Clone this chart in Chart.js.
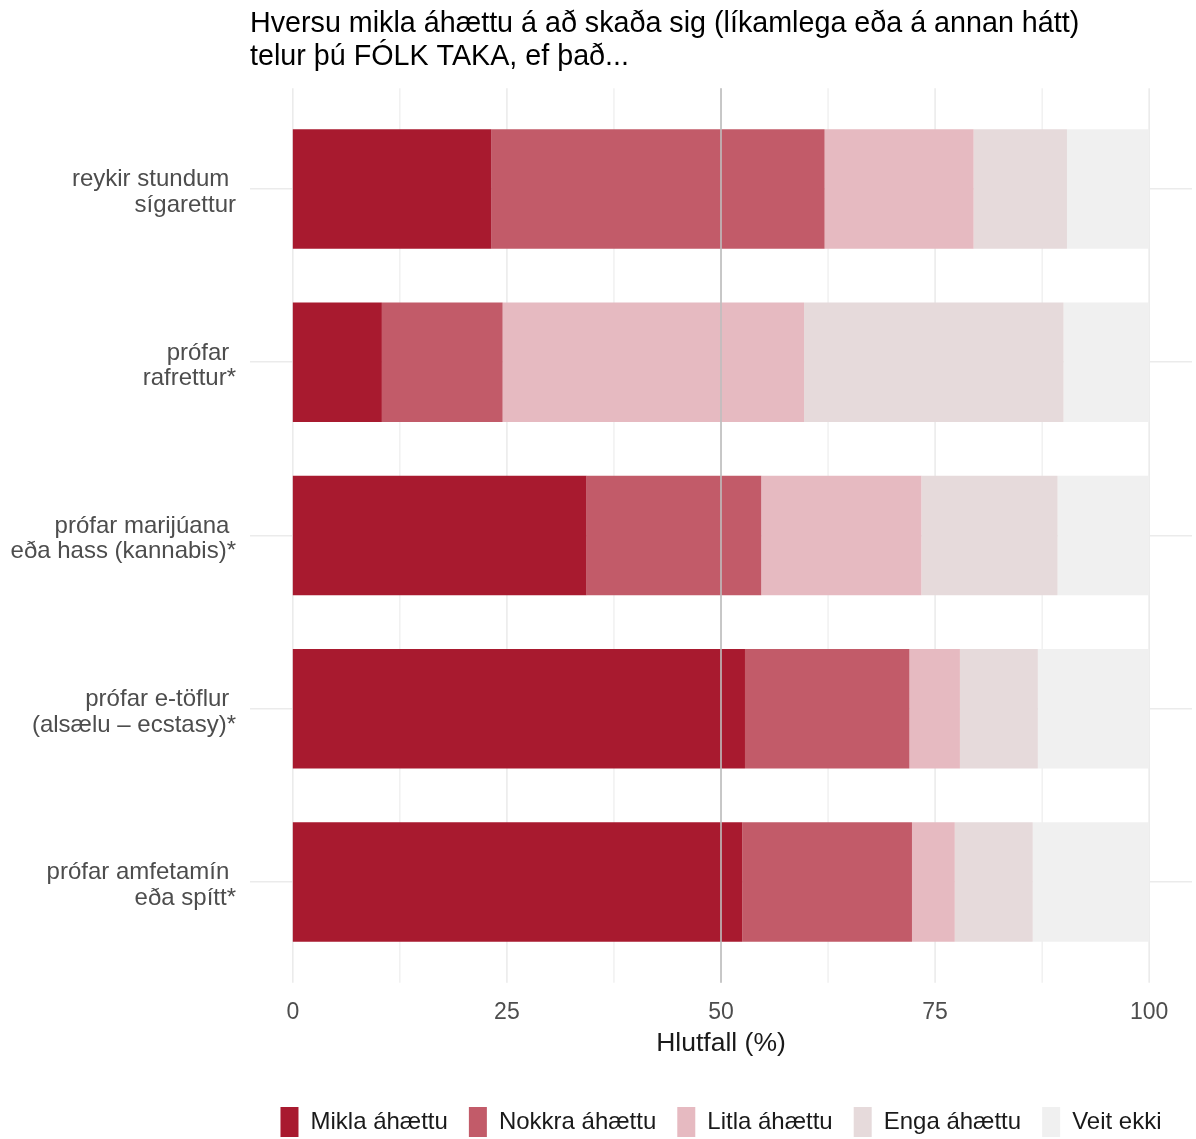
<!DOCTYPE html>
<html>
<head>
<meta charset="utf-8">
<script src="https://cdn.jsdelivr.net/npm/chart.js@4"></script>
<style>html,body{margin:0;padding:0;background:#ffffff;}canvas{display:block;}</style>
</head>
<body>
<canvas id="c" width="1196" height="1139"></canvas>
<script>
// ---- data ----
const categories = [
  ['reykir stundum ', 'sígarettur'],
  ['prófar ', 'rafrettur*'],
  ['prófar marijúana ', 'eða hass (kannabis)*'],
  ['prófar e-töflur ', '(alsælu – ecstasy)*'],
  ['prófar amfetamín ', 'eða spítt*']
];
const seriesNames = ['Mikla áhættu', 'Nokkra áhættu', 'Litla áhættu', 'Enga áhættu', 'Veit ekki'];
const mikla    = [23.2, 10.4, 34.3, 52.8, 52.5];
const nokkra   = [38.9, 14.1, 20.4, 19.2, 19.8];
const litla    = [17.4, 35.2, 18.7,  5.9,  5.0];
const enga     = [10.9, 30.3, 15.9,  9.1,  9.1];
const veitEkki = [ 9.6, 10.0, 10.7, 13.0, 13.6];
const xTickValues = [0, 12.5, 25, 37.5, 50, 62.5, 75, 87.5, 100];
const xTickLabels = ['0', '', '25', '', '50', '', '75', '', '100'];
const referenceValue = 50;
const titleLines = ['Hversu mikla áhættu á að skaða sig (líkamlega eða á annan hátt)', 'telur þú FÓLK TAKA, ef það...'];
const xAxisTitle = 'Hlutfall (%)';

// ---- styles ----
const colors = ['#A81A2F', '#C25B69', '#E6BAC1', '#E6DADB', '#F0F0F0'];
const FONT = '"Liberation Sans", Arial, sans-serif';
const seriesValues = [mikla, nokkra, litla, enga, veitEkki];

const panelGrid = {
  id: 'panelGrid',
  beforeDatasetsDraw(chart) {
    const {ctx, chartArea: a, scales: {x}} = chart;
    ctx.save();
    ctx.strokeStyle = '#EBEBEB';
    x.ticks.forEach(t => {
      const px = x.getPixelForValue(t.value);
      ctx.lineWidth = (t.value % 25 === 0) ? 1.6 : 1.1;
      ctx.beginPath();
      ctx.moveTo(px, a.top - 14);
      ctx.lineTo(px, a.bottom + 14);
      ctx.stroke();
    });
    ctx.restore();
  },
  afterDatasetsDraw(chart) {
    const {ctx, chartArea: a, scales: {x}} = chart;
    const px = x.getPixelForValue(referenceValue);
    ctx.save();
    ctx.strokeStyle = '#BEBEBE';
    ctx.lineWidth = 1.6;
    ctx.beginPath();
    ctx.moveTo(px, a.top - 14);
    ctx.lineTo(px, a.bottom + 14);
    ctx.stroke();
    ctx.restore();
  }
};

new Chart(document.getElementById('c'), {
  type: 'bar',
  data: {
    labels: categories,
    datasets: seriesNames.map((name, i) => ({
      label: name,
      data: seriesValues[i],
      backgroundColor: colors[i],
      borderWidth: 0,
      barPercentage: 0.69,
      categoryPercentage: 1.0
    }))
  },
  options: {
    indexAxis: 'y',
    responsive: false,
    animation: false,
    devicePixelRatio: 1,
    layout: { padding: { left: 0, right: 4, top: 0, bottom: 0 } },
    scales: {
      x: {
        type: 'linear',
        stacked: true,
        min: -5,
        max: 105,
        afterBuildTicks: (s) => { s.ticks = xTickValues.map(v => ({ value: v })); },
        afterFit: (s) => { s.height = 117.3; s.paddingLeft = 0; s.paddingRight = 0; },
        grid: { display: false, drawTicks: false },
        border: { display: false },
        ticks: {
          autoSkip: false,
          maxRotation: 0,
          padding: 31.6,
          color: '#4D4D4D',
          font: { family: FONT, size: 23, lineHeight: 1.1 },
          callback: (v, i) => xTickLabels[i]
        },
        title: {
          display: true,
          text: xAxisTitle,
          color: '#1A1A1A',
          font: { family: FONT, size: 26.5, lineHeight: 1.2 },
          padding: { top: 2.5, bottom: 26.1 }
        }
      },
      y: {
        type: 'category',
        stacked: true,
        offset: true,
        afterFit: (s) => { s.width = 250; },
        grid: { display: true, offset: false, drawTicks: false, color: '#EBEBEB', lineWidth: 1.6 },
        border: { display: false },
        ticks: {
          padding: 14,
          labelOffset: 3.5,
          color: '#4D4D4D',
          font: { family: FONT, size: 24, lineHeight: 1.06 }
        }
      }
    },
    plugins: {
      title: {
        display: true,
        text: titleLines,
        align: 'start',
        fullSize: false,
        color: '#000000',
        font: { family: FONT, size: 28.7, weight: 'normal', lineHeight: 1.15 },
        padding: { top: 7.5, bottom: 28.8 }
      },
      legend: {
        display: true,
        position: 'bottom',
        fullSize: false,
        maxHeight: 53,
        labels: {
          boxWidth: 18,
          boxHeight: 30,
          padding: 21,
          color: '#1A1A1A',
          font: { family: FONT, size: 24 }
        }
      },
      tooltip: { enabled: false }
    }
  },
  plugins: [panelGrid]
});
</script>
</body>
</html>
